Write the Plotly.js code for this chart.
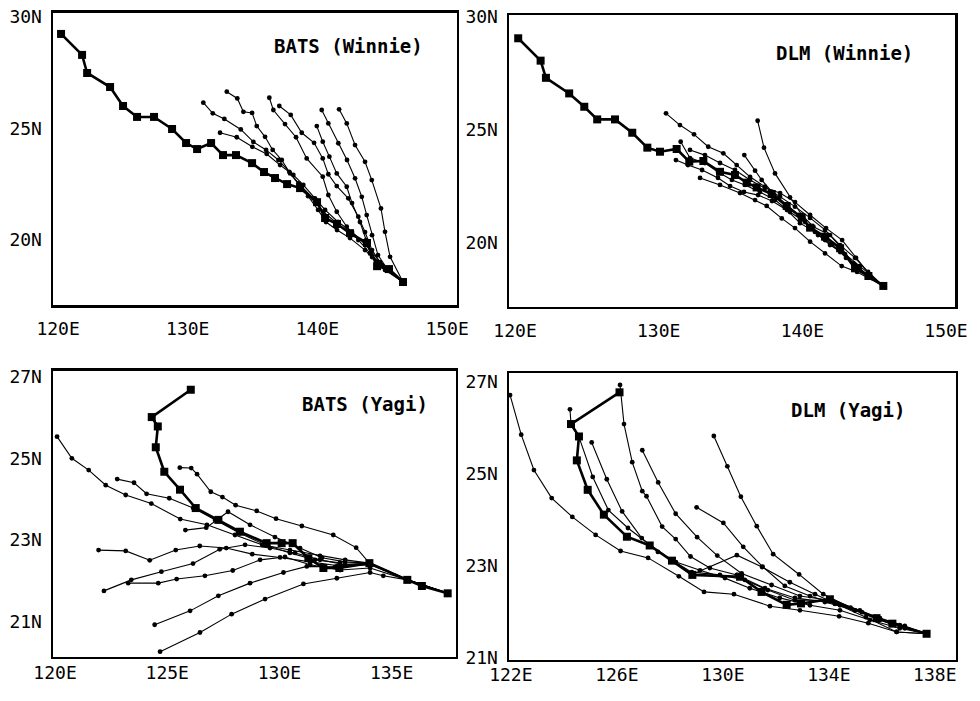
<!DOCTYPE html>
<html>
<head>
<meta charset="utf-8">
<script src="https://cdn.plot.ly/plotly-3.0.1.min.js"></script>
<style>html,body{margin:0;padding:0;background:#fff;}#chart{width:980px;height:701px;}</style>
</head>
<body>
<div id="chart"></div>
<script>
// ---------- Panel titles ----------
const panelTitles = ['BATS (Winnie)', 'DLM (Winnie)', 'BATS (Yagi)', 'DLM (Yagi)'];

// ---------- Tick labels ----------
const winnieLonTicks = [120, 130, 140, 150];
const winnieLonText = ['120E', '130E', '140E', '150E'];
const winnieLatTicks = [20, 25, 30];
const winnieLatText = ['20N', '25N', '30N'];
const batsYagiLonTicks = [120, 125, 130, 135];
const batsYagiLonText = ['120E', '125E', '130E', '135E'];
const dlmYagiLonTicks = [122, 126, 130, 134, 138];
const dlmYagiLonText = ['122E', '126E', '130E', '134E', '138E'];
const yagiLatTicks = [21, 23, 25, 27];
const yagiLatText = ['21N', '23N', '25N', '27N'];

// ---------- Winnie, observed track (as drawn in BATS panel) ----------
const obsBatsWinnieLon = [120.23,121.85,122.24,124.01,125.01,126.09,127.40,128.79,129.87,130.72,131.80,132.72,133.72,134.96,135.88,136.73,137.66,138.66,139.97,140.59,141.51,142.51,143.82,144.60,145.52,146.60];
const obsBatsWinnieLat = [29.24,28.30,27.49,26.86,26.01,25.52,25.52,24.98,24.35,24.08,24.35,23.81,23.81,23.45,23.05,22.78,22.51,22.33,21.70,20.99,20.72,20.31,19.87,18.83,18.70,18.12];

// ---------- Winnie, BATS forecast tracks ----------
const fcBatsWinnieLon = [
  [131.20,131.93,132.82,134.09,135.06,136.04,136.99,137.83,138.66,139.68,140.45,141.49,142.51,143.67,144.57,146.60],
  [133.01,133.82,134.29,134.96,135.32,135.96,136.55,137.25,137.89,138.53,139.28,140.05,140.66,141.51,142.51,143.67,144.83,146.60],
  [132.49,133.78,134.98,136.09,137.12,138.14,138.91,139.81,140.59,141.59,142.67,143.75,144.83,146.60],
  [136.29,136.60,137.50,138.35,139.17,140.41,140.84,141.49,142.26,143.15,144.06,145.08,146.60],
  [137.06,137.94,138.79,139.74,140.41,140.84,141.49,142.38,143.15,143.67,144.21,144.98,146.60],
  [139.95,140.41,140.92,141.49,142.26,142.67,143.28,143.75,144.21,145.21,146.60],
  [140.33,140.84,141.61,142.28,142.90,143.42,143.80,144.21,144.67,145.44,146.60],
  [141.67,142.26,142.90,143.67,144.19,144.90,145.21,145.60,146.60]
];
const fcBatsWinnieLat = [
  [26.16,25.68,25.43,24.96,24.40,24.04,23.59,23.06,22.47,21.87,21.27,20.75,20.27,19.88,19.03,18.12],
  [26.65,26.35,25.75,25.70,25.11,24.63,24.04,23.59,22.99,22.54,21.97,21.35,20.81,20.45,20.09,19.55,18.88,18.12],
  [24.81,24.61,24.18,23.86,23.36,22.92,22.47,21.87,21.35,20.81,20.36,19.78,19.01,18.12],
  [26.38,25.83,25.20,24.61,23.66,22.84,22.02,21.27,20.60,20.00,19.40,18.80,18.12],
  [26.01,25.61,24.81,24.36,23.66,22.95,22.42,21.87,21.05,20.36,19.55,18.88,18.12],
  [25.11,24.41,23.74,22.99,22.39,21.66,20.81,20.00,19.24,18.66,18.12],
  [25.83,25.23,24.34,23.59,22.77,21.94,21.12,20.22,19.33,18.66,18.12],
  [25.86,25.23,24.26,23.51,22.69,21.42,20.37,19.25,18.12]
];

// ---------- Winnie, observed track (as drawn in DLM panel) ----------
const obsDlmWinnieLon = [120.22,121.78,122.15,123.77,124.82,125.72,126.96,128.16,129.21,130.09,131.25,132.13,133.11,134.27,135.31,136.13,136.82,137.87,138.91,139.96,140.54,141.58,142.63,143.67,144.60,145.64];
const obsDlmWinnieLat = [29.06,28.07,27.31,26.62,26.03,25.47,25.47,24.88,24.22,24.04,24.16,23.60,23.63,23.15,23.01,22.67,22.46,22.17,21.64,21.12,20.68,20.28,19.77,18.88,18.54,18.10];

// ---------- Winnie, DLM forecast tracks ----------
const fcDlmWinnieLon = [
  [130.51,131.48,132.46,133.45,134.50,135.43,136.36,137.40,138.45,139.49,140.54,141.58,142.63,143.67,144.58,145.64],
  [136.89,137.33,138.10,139.14,139.96,140.77,141.93,142.63,143.55,144.60,145.64],
  [135.96,136.71,137.17,137.87,138.91,139.72,140.54,141.58,142.63,143.67,144.58,145.64],
  [132.88,134.27,135.66,136.71,137.52,138.57,139.49,140.54,141.58,142.74,143.81,145.64],
  [131.53,132.18,133.22,134.13,135.10,136.01,137.05,138.10,139.14,140.19,141.09,142.07,143.04,144.01,144.85,145.64],
  [131.20,132.04,133.02,134.13,134.97,135.94,136.92,137.89,138.93,139.84,140.88,141.93,142.97,144.01,145.64],
  [132.18,133.22,134.27,135.31,136.36,137.40,138.45,139.49,140.54,141.65,142.77,143.74,144.71,145.64]
];
const fcDlmWinnieLat = [
  [25.74,25.22,24.81,24.26,23.97,23.45,22.93,22.49,22.05,21.61,21.11,20.58,19.91,19.34,18.72,18.10],
  [25.41,24.22,23.08,22.02,21.24,20.72,20.35,19.84,19.10,18.58,18.10],
  [23.89,23.20,22.79,22.27,21.68,21.24,20.72,20.13,19.60,19.03,18.54,18.10],
  [22.88,22.57,22.21,21.90,21.64,21.09,20.66,20.06,19.54,18.98,18.72,18.10],
  [24.48,23.76,23.54,23.14,22.79,22.57,22.26,21.90,21.37,20.93,20.35,19.96,19.34,18.81,18.45,18.10],
  [23.67,23.45,23.23,22.88,22.52,22.26,22.12,21.86,21.46,20.88,20.49,19.91,19.51,18.98,18.10],
  [24.12,23.89,23.54,23.23,22.79,22.43,22.21,21.81,21.24,20.66,20.13,19.34,18.58,18.10]
];

// ---------- Yagi, observed track (BATS panel) ----------
const obsBatsYagiLon = [137.50,136.35,135.70,134.01,132.67,131.96,131.29,130.59,130.10,129.43,128.24,127.28,126.27,125.57,124.87,124.49,124.58,124.31,126.05];
const obsBatsYagiLat = [21.69,21.87,22.02,22.43,22.31,22.31,22.55,22.92,22.92,22.92,23.20,23.49,23.78,24.23,24.67,25.27,25.78,26.01,26.68];

// ---------- Yagi, BATS forecast tracks ----------
const fcBatsYagiLon = [
  [120.09,120.75,121.50,122.26,123.15,124.29,125.58,126.77,128.02,129.23,130.47,131.81,132.93,134.01,135.70,137.50],
  [122.77,123.52,124.08,125.09,126.16,127.13,128.24,129.36,130.47,131.59,132.70,134.01,135.70,137.50],
  [125.56,126.07,126.33,126.94,127.46,128.05,128.99,129.85,131.00,132.40,133.42,134.01,135.70,137.50],
  [125.81,126.74,127.71,128.69,129.80,130.92,131.90,132.93,134.01,135.70,137.50],
  [121.94,123.15,124.22,125.38,126.45,127.63,128.79,130.03,131.37,132.70,134.01,135.70,137.50],
  [122.18,123.40,124.74,126.15,127.34,128.47,129.58,130.70,131.81,132.93,134.01,135.70,137.50],
  [123.26,124.60,125.42,126.68,127.92,129.14,130.25,131.37,132.70,134.04,135.70,137.50],
  [124.44,126.02,127.28,128.69,130.18,131.22,132.48,134.04,135.70,137.50],
  [124.68,126.46,127.87,129.36,131.07,132.56,134.04,134.63,135.70,137.50]
];
const fcBatsYagiLat = [
  [25.53,25.00,24.71,24.34,24.10,23.89,23.51,23.37,23.12,22.88,22.75,22.61,22.51,22.43,22.02,21.69],
  [24.49,24.40,24.13,24.02,23.78,23.49,23.16,22.88,22.68,22.51,22.44,22.43,22.02,21.69],
  [24.77,24.76,24.61,24.18,24.05,23.85,23.71,23.52,23.34,23.12,22.81,22.43,22.02,21.69],
  [23.24,23.30,23.69,23.37,23.07,22.80,22.56,22.46,22.43,22.02,21.69],
  [22.75,22.73,22.50,22.75,22.85,22.80,22.65,22.57,22.46,22.36,22.43,22.02,21.69],
  [21.75,22.02,22.22,22.42,22.77,22.88,22.80,22.68,22.51,22.39,22.43,22.02,21.69],
  [21.94,21.94,22.04,22.12,22.25,22.51,22.58,22.39,22.26,22.31,22.02,21.69],
  [20.92,21.26,21.63,21.94,22.20,22.35,22.34,22.39,22.02,21.69],
  [20.26,20.73,21.18,21.55,21.92,22.06,22.20,22.12,22.02,21.69]
];

// ---------- Yagi, observed track (DLM panel) ----------
const obsDlmYagiLon = [137.69,136.40,135.80,134.04,132.95,132.41,131.46,130.65,128.85,128.08,127.24,126.38,125.51,124.90,124.49,124.57,124.27,126.10];
const obsDlmYagiLat = [21.52,21.74,21.86,22.27,22.18,22.15,22.43,22.76,22.80,23.11,23.44,23.63,24.11,24.65,25.29,25.81,26.08,26.77];

// ---------- Yagi, DLM forecast tracks ----------
const fcDlmYagiLon = [
  [121.97,122.39,122.87,123.54,124.32,125.20,126.14,127.18,128.34,129.29,130.42,131.78,132.91,134.39,135.49,136.56,137.69],
  [124.23,124.27,124.57,125.09,125.68,126.42,127.25,128.08,128.83,129.89,130.83,131.70,132.72,133.97,134.98,135.93,136.87,137.69],
  [126.12,126.27,126.58,126.96,127.12,127.71,128.22,128.78,129.51,130.53,131.59,132.72,133.85,134.98,135.93,136.87,137.69],
  [125.05,125.62,126.20,126.94,127.55,128.23,129.14,130.08,131.02,132.15,133.29,134.42,135.55,136.68,137.69],
  [126.96,127.56,128.22,129.03,129.79,130.71,131.84,132.91,134.04,135.17,136.31,137.69],
  [129.66,130.17,130.68,131.28,131.90,132.88,133.79,134.82,135.78,136.68,137.69],
  [129.01,130.02,130.77,131.50,132.34,133.29,134.23,135.25,136.31,137.69],
  [128.87,130.53,131.48,132.53,133.48,134.42,135.40,136.56,137.69]
];
const fcDlmYagiLat = [
  [26.71,25.85,25.08,24.47,24.06,23.67,23.32,23.17,22.77,22.43,22.38,22.12,22.03,21.90,21.75,21.56,21.52],
  [26.40,26.08,25.80,24.93,24.21,23.82,23.45,23.12,22.86,22.80,22.69,22.47,22.25,22.25,22.03,21.82,21.64,21.52],
  [26.93,26.08,25.25,24.62,24.51,23.85,23.58,23.20,22.95,22.80,22.51,22.30,22.21,22.03,21.86,21.69,21.52],
  [25.68,24.88,24.18,23.60,23.30,23.08,22.90,22.73,22.51,22.30,22.14,22.03,21.82,21.64,21.52],
  [25.51,24.81,24.13,23.62,23.22,22.83,22.58,22.34,22.25,22.03,21.77,21.52],
  [25.82,25.16,24.50,23.86,23.25,22.81,22.38,22.09,21.88,21.71,21.52],
  [24.27,23.93,23.41,22.98,22.56,22.34,22.17,21.99,21.77,21.52],
  [22.82,23.23,22.97,22.64,22.38,22.14,21.88,21.56,21.52]
];

// ---------- build traces ----------
const traces = [];
function addPanel(fcLon, fcLat, obsLon, obsLat, xa, ya) {
  fcLon.forEach((lons, i) => {
    traces.push({
      x: lons, y: fcLat[i], xaxis: xa, yaxis: ya, type: 'scatter', mode: 'lines+markers',
      line: {color: 'black', width: 1.1},
      marker: {symbol: 'circle', size: 4.8, color: 'black'},
      hoverinfo: 'skip', cliponaxis: false
    });
  });
  traces.push({
    x: obsLon, y: obsLat, xaxis: xa, yaxis: ya, type: 'scatter', mode: 'lines+markers',
    line: {color: 'black', width: 2.6},
    marker: {symbol: 'square', size: 8, color: 'black'},
    hoverinfo: 'skip', cliponaxis: false
  });
}
addPanel(fcBatsWinnieLon, fcBatsWinnieLat, obsBatsWinnieLon, obsBatsWinnieLat, 'x', 'y');
addPanel(fcDlmWinnieLon, fcDlmWinnieLat, obsDlmWinnieLon, obsDlmWinnieLat, 'x2', 'y2');
addPanel(fcBatsYagiLon, fcBatsYagiLat, obsBatsYagiLon, obsBatsYagiLat, 'x3', 'y3');
addPanel(fcDlmYagiLon, fcDlmYagiLat, obsDlmYagiLon, obsDlmYagiLat, 'x4', 'y4');

const tickFont = {family: 'DejaVu Sans Mono, monospace', size: 18, color: 'black'};
function xAx(domain, range, vals, text, anchor, standoff) {
  return {domain, range, anchor, tickmode: 'array', tickvals: vals, ticktext: text,
    showline: true, mirror: true, linecolor: 'black', linewidth: 2.5,
    showgrid: false, zeroline: false, ticks: 'outside', ticklen: 0, tickwidth: 0, tickcolor: 'rgba(0,0,0,0)',
    tickfont: tickFont, ticklabelstandoff: standoff, fixedrange: true};
}
function yAx(domain, range, vals, text, anchor) {
  return {domain, range, anchor, tickmode: 'array', tickvals: vals, ticktext: text,
    showline: true, mirror: true, linecolor: 'black', linewidth: 2.5,
    showgrid: false, zeroline: false, ticks: '', tickfont: tickFont, ticklabelstandoff: 5, fixedrange: true};
}
const annFont = {family: 'DejaVu Sans Mono, monospace', size: 19, color: 'black'};
const layout = {
  width: 980, height: 701,
  margin: {l: 0, r: 0, t: 0, b: 0},
  paper_bgcolor: 'white', plot_bgcolor: 'white',
  showlegend: false,
  xaxis:  xAx([0.0541, 0.4663], [119.61, 150.76], winnieLonTicks, winnieLonText, 'y', 6),
  yaxis:  yAx([0.5649, 0.9815], [17.09, 30.18], winnieLatTicks, winnieLatText, 'x'),
  xaxis2: xAx([0.5194, 0.9745], [119.58, 150.63], winnieLonTicks, winnieLonText, 'y2', 6),
  yaxis2: yAx([0.5621, 0.9786], [17.17, 30.09], winnieLatTicks, winnieLatText, 'x2'),
  xaxis3: xAx([0.0541, 0.4653], [119.91, 137.87], batsYagiLonTicks, batsYagiLonText, 'y3', -2),
  yaxis3: yAx([0.0628, 0.4708], [20.13, 27.14], yagiLatTicks, yagiLatText, 'x3'),
  xaxis4: xAx([0.5194, 0.9755], [121.93, 138.80], dlmYagiLonTicks, dlmYagiLonText, 'y4', -3),
  yaxis4: yAx([0.0585, 0.4679], [20.95, 27.19], yagiLatTicks, yagiLatText, 'x4'),
  annotations: [
    {text: '<b>' + panelTitles[0] + '</b>', xref: 'paper', yref: 'paper', x: 0.3561, y: 0.9344, showarrow: false, font: annFont, xanchor: 'center', yanchor: 'middle'},
    {text: '<b>' + panelTitles[1] + '</b>', xref: 'paper', yref: 'paper', x: 0.8622, y: 0.9251, showarrow: false, font: annFont, xanchor: 'center', yanchor: 'middle'},
    {text: '<b>' + panelTitles[2] + '</b>', xref: 'paper', yref: 'paper', x: 0.3724, y: 0.4237, showarrow: false, font: annFont, xanchor: 'center', yanchor: 'middle'},
    {text: '<b>' + panelTitles[3] + '</b>', xref: 'paper', yref: 'paper', x: 0.8653, y: 0.4151, showarrow: false, font: annFont, xanchor: 'center', yanchor: 'middle'}
  ]
};
Plotly.newPlot('chart', traces, layout, {displayModeBar: false, staticPlot: true});
</script>
</body>
</html>
